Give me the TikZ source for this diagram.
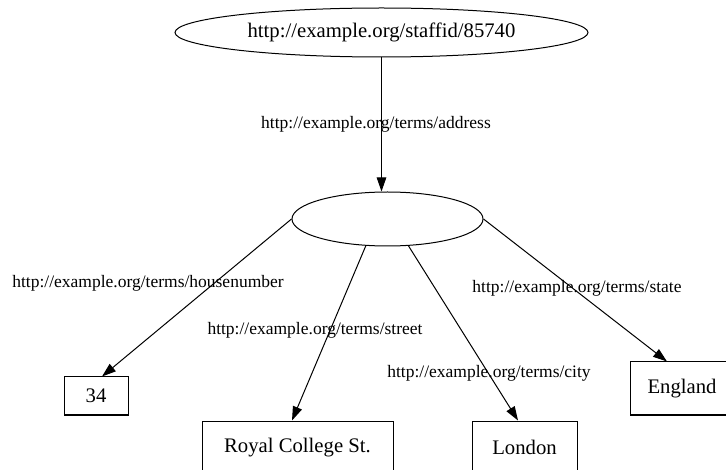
\documentclass[tikz,border=0pt]{standalone}
\usepackage{fontspec}
\setmainfont{Liberation Serif}
\usetikzlibrary{shapes.geometric,arrows.meta}

\tikzset{
  res/.style={draw, ellipse, line width=1pt, inner sep=0pt,
    font=\fontsize{20.7pt}{24pt}\selectfont},
  lit/.style={draw, rectangle, line width=1pt, inner sep=0pt,
    font=\fontsize{20.7pt}{24pt}\selectfont},
  prop/.style={inner sep=0pt, font=\fontsize{17.5pt}{21pt}\selectfont},
  link/.style={line width=1pt, -{Triangle[length=14pt,width=9.5pt]}},
}

\begin{document}
\begin{tikzpicture}[x=1pt, y=-1pt]
\useasboundingbox (0,0) rectangle (726,470);

% resources
\node[res, minimum width=413pt, minimum height=49pt] (subj) at (381.5,32.5)
  {http://example.org/staffid/85740};
\node[res, minimum width=191pt, minimum height=54pt] (addr) at (387.5,219) {};

% literal values
\node[lit, minimum width=64pt,  minimum height=38pt] (house)  at (96,396)    {34};
\node[lit, minimum width=191pt, minimum height=53pt] (street) at (297.5,447.5) {Royal College St.};
\node[lit, minimum width=105pt, minimum height=53pt] (city)   at (524.5,447.5) {London};
\node[lit, minimum width=104pt, minimum height=53pt] (state)  at (682,388.5) {England};

% property arcs
\draw[link] (subj.south) -- (subj.south |- addr.north);
\draw[link] (addr.west) -- ([xshift=6pt]house.north);
\draw[link] (addr.231) -- ([xshift=-5.5pt]street.north);
\draw[link] (addr.308) -- ([xshift=-6.5pt]city.north);
\draw[link] (addr.east) -- ([xshift=-15pt]state.north);

% property labels
\node[prop] (paddress) at (376,124) {http://example.org/terms/address};
\node[prop] (phouse)   at (148,283) {http://example.org/terms/housenumber};
\node[prop] (pstreet)  at (315,330) {http://example.org/terms/street};
\node[prop] (pcity)    at (489,373) {http://example.org/terms/city};
\node[prop] (pstate)   at (577,288) {http://example.org/terms/state};
\end{tikzpicture}
\end{document}
